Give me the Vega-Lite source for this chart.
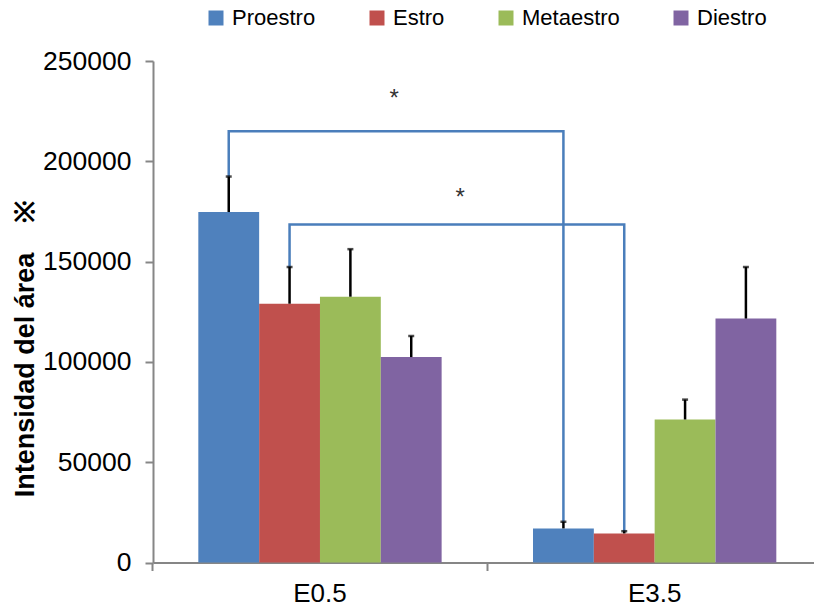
{
  "$schema": "https://vega.github.io/schema/vega-lite/v6.json",
  "width": 661,
  "height": 501.5,
  "autosize": {"type": "none"},
  "padding": {"left": 153, "top": 61, "right": 0, "bottom": 48.5},
  "background": "white",
  "config": {
    "view": {"stroke": null},
    "font": "Liberation Sans",
    "axis": {"grid": false, "domainColor": "#868686", "domainWidth": 2, "tickColor": "#868686", "tickWidth": 2, "tickSize": 8, "labelColor": "black", "labelFont": "Liberation Sans"}
  },
  "datasets": {
    "bars": [
      {"g": "E0.5", "s": "Proestro", "v": 174700, "e": 192400},
      {"g": "E0.5", "s": "Estro", "v": 129000, "e": 147300},
      {"g": "E0.5", "s": "Metaestro", "v": 132500, "e": 156200},
      {"g": "E0.5", "s": "Diestro", "v": 102400, "e": 112900},
      {"g": "E3.5", "s": "Proestro", "v": 17000, "e": 20300},
      {"g": "E3.5", "s": "Estro", "v": 14500, "e": 15600},
      {"g": "E3.5", "s": "Metaestro", "v": 71300, "e": 81200},
      {"g": "E3.5", "s": "Diestro", "v": 121600, "e": 147300}
    ],
    "brackets": [
      {"b": 1, "o": 1, "g": "E0.5", "s": "Proestro", "v": 192400},
      {"b": 1, "o": 2, "g": "E0.5", "s": "Proestro", "v": 215000},
      {"b": 1, "o": 3, "g": "E3.5", "s": "Proestro", "v": 215000},
      {"b": 1, "o": 4, "g": "E3.5", "s": "Proestro", "v": 20300},
      {"b": 2, "o": 1, "g": "E0.5", "s": "Estro", "v": 147300},
      {"b": 2, "o": 2, "g": "E0.5", "s": "Estro", "v": 168500},
      {"b": 2, "o": 3, "g": "E3.5", "s": "Estro", "v": 168500},
      {"b": 2, "o": 4, "g": "E3.5", "s": "Estro", "v": 15600}
    ],
    "star1": [{"g": "E0.5", "s": "Diestro", "v": 227500, "t": "*"}],
    "star2": [{"g": "E0.5", "s": "Diestro", "v": 178300, "t": "*"}]
  },
  "layer": [
    {
      "data": {"name": "bars"},
      "mark": {"type": "bar"},
      "encoding": {
        "x": {
          "field": "g", "type": "nominal",
          "scale": {"paddingInner": 0.273, "paddingOuter": 0.124, "align": 0.546, "round": false},
          "axis": {"title": null, "labelFontSize": 26, "labelPadding": 10, "labelAngle": 0, "bandPosition": -0.188}
        },
        "xOffset": {"field": "s", "type": "nominal", "sort": ["Proestro", "Estro", "Metaestro", "Diestro"]},
        "y": {
          "field": "v", "type": "quantitative",
          "scale": {"domain": [0, 250000], "nice": false},
          "axis": {
            "values": [0, 50000, 100000, 150000, 200000, 250000],
            "format": "d",
            "labelFontSize": 26.5,
            "labelPadding": 14,
            "title": "Intensidad del área\u00a0\u00a0\u00a0\u00a0※",
            "titleFontSize": 27,
            "titleFontWeight": "bold",
            "titleColor": "black",
            "titleFont": "Liberation Sans",
            "titleX": -120,
            "titleY": 287,
            "titleBaseline": "alphabetic",
            "titleAngle": -90
          }
        },
        "color": {
          "field": "s", "type": "nominal",
          "sort": ["Proestro", "Estro", "Metaestro", "Diestro"],
          "scale": {"domain": ["Proestro", "Estro", "Metaestro", "Diestro"], "range": ["#4F81BD", "#C0504D", "#9BBB59", "#8064A2"]},
          "legend": {
            "orient": "none", "legendX": 52, "legendY": -54, "direction": "horizontal", "title": null,
            "symbolType": "square", "symbolSize": 225, "symbolStrokeWidth": 0, "symbolOpacity": 1,
            "labelFontSize": 22, "labelOffset": 5, "columnPadding": 50, "labelColor": "black", "labelFont": "Liberation Sans"
          }
        }
      }
    },
    {
      "data": {"name": "brackets"},
      "mark": {"type": "line", "color": "#4A7EBB", "strokeWidth": 2.5, "strokeJoin": "miter"},
      "encoding": {
        "x": {"field": "g", "type": "nominal"},
        "xOffset": {"field": "s", "type": "nominal", "sort": ["Proestro", "Estro", "Metaestro", "Diestro"]},
        "y": {"field": "v", "type": "quantitative"},
        "detail": {"field": "b", "type": "nominal"},
        "order": {"field": "o", "type": "quantitative"}
      }
    },
    {
      "data": {"name": "bars"},
      "mark": {"type": "rule", "color": "black", "strokeWidth": 2.5},
      "encoding": {
        "x": {"field": "g", "type": "nominal"},
        "xOffset": {"field": "s", "type": "nominal", "sort": ["Proestro", "Estro", "Metaestro", "Diestro"]},
        "y": {"field": "v", "type": "quantitative"},
        "y2": {"field": "e"}
      }
    },
    {
      "data": {"name": "bars"},
      "mark": {"type": "tick", "color": "black", "size": 6, "thickness": 2.5, "orient": "horizontal"},
      "encoding": {
        "x": {"field": "g", "type": "nominal"},
        "xOffset": {"field": "s", "type": "nominal", "sort": ["Proestro", "Estro", "Metaestro", "Diestro"]},
        "y": {"field": "e", "type": "quantitative"}
      }
    },
    {
      "data": {"name": "star1"},
      "mark": {"type": "text", "fontSize": 24, "color": "#333333", "baseline": "alphabetic", "dx": -17, "font": "Liberation Sans"},
      "encoding": {
        "x": {"field": "g", "type": "nominal"},
        "xOffset": {"field": "s", "type": "nominal", "sort": ["Proestro", "Estro", "Metaestro", "Diestro"]},
        "y": {"field": "v", "type": "quantitative"},
        "text": {"field": "t"}
      }
    },
    {
      "data": {"name": "star2"},
      "mark": {"type": "text", "fontSize": 24, "color": "#333333", "baseline": "alphabetic", "dx": 49, "font": "Liberation Sans"},
      "encoding": {
        "x": {"field": "g", "type": "nominal"},
        "xOffset": {"field": "s", "type": "nominal", "sort": ["Proestro", "Estro", "Metaestro", "Diestro"]},
        "y": {"field": "v", "type": "quantitative"},
        "text": {"field": "t"}
      }
    }
  ]
}
